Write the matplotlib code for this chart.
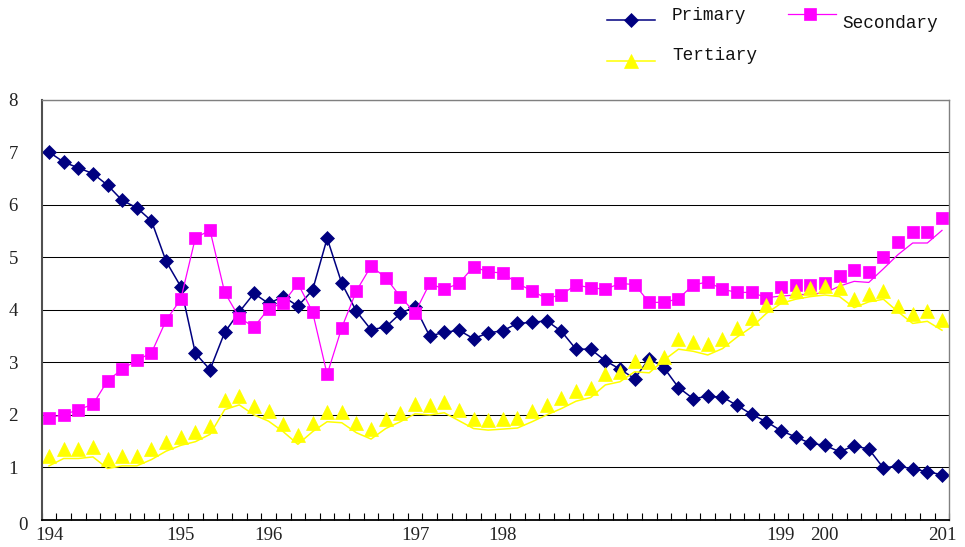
import matplotlib
matplotlib.use("Agg")
import matplotlib.pyplot as plt
import numpy as np
from matplotlib.lines import Line2D
from matplotlib.transforms import ScaledTranslation

# values, one per category (62 categories)
primary = [7.00, 6.81, 6.70, 6.59, 6.37, 6.08, 5.94, 5.69, 4.92, 4.44,
           3.17, 2.86, 3.57, 3.96, 4.31, 4.12, 4.25, 4.07, 4.37, 5.36,
           4.50, 3.97, 3.62, 3.67, 3.93, 4.06, 3.50, 3.57, 3.61, 3.45,
           3.56, 3.60, 3.74, 3.76, 3.79, 3.59, 3.25, 3.25, 3.03, 2.87,
           2.69, 3.07, 2.90, 2.52, 2.31, 2.35, 2.34, 2.18, 2.01, 1.87,
           1.70, 1.58, 1.46, 1.42, 1.30, 1.41, 1.35, 0.99, 1.03, 0.97,
           0.92, 0.86]

# secondary: marker values and the (slightly different) line values
secondary = [1.95, 2.00, 2.10, 2.20, 2.65, 2.87, 3.04, 3.18, 3.80, 4.20,
             5.37, 5.51, 4.33, 3.85, 3.67, 4.02, 4.13, 4.50, 3.96, 2.77,
             3.66, 4.36, 4.83, 4.61, 4.25, 3.94, 4.50, 4.39, 4.50, 4.82,
             4.72, 4.70, 4.50, 4.36, 4.21, 4.29, 4.47, 4.42, 4.39, 4.50,
             4.48, 4.14, 4.14, 4.21, 4.47, 4.53, 4.39, 4.33, 4.33, 4.23,
             4.43, 4.47, 4.48, 4.50, 4.65, 4.75, 4.72, 5.01, 5.29, 5.48,
             5.48, 5.74]
secondary_line = [1.95, 2.00, 2.10, 2.20, 2.65, 2.87, 3.04, 3.18, 3.80, 4.20,
                  5.37, 5.51, 4.33, 3.85, 3.67, 4.02, 4.13, 4.50, 3.96, 2.77,
                  3.66, 4.36, 4.83, 4.61, 4.25, 3.94, 4.50, 4.39, 4.50, 4.82,
                  4.72, 4.70, 4.50, 4.36, 4.21, 4.29, 4.47, 4.42, 4.39, 4.50,
                  4.48, 4.14, 4.14, 4.21, 4.47, 4.53, 4.39, 4.33, 4.33, 4.23,
                  4.26, 4.28, 4.30, 4.32, 4.45, 4.54, 4.52, 4.78, 5.05, 5.27,
                  5.27, 5.51]

# tertiary: marker values and line values
tertiary = [1.22, 1.36, 1.36, 1.39, 1.17, 1.22, 1.22, 1.35, 1.48, 1.58,
            1.67, 1.78, 2.29, 2.35, 2.16, 2.07, 1.83, 1.62, 1.84, 2.05,
            2.05, 1.84, 1.73, 1.93, 2.03, 2.21, 2.18, 2.24, 2.10, 1.92,
            1.90, 1.92, 1.95, 2.07, 2.19, 2.32, 2.46, 2.52, 2.78, 2.82,
            3.02, 3.00, 3.11, 3.45, 3.38, 3.34, 3.45, 3.66, 3.84, 4.09,
            4.25, 4.35, 4.42, 4.45, 4.42, 4.21, 4.30, 4.35, 4.08, 3.92,
            3.97, 3.80]
tertiary_line = [1.03, 1.17, 1.17, 1.20, 0.98, 1.03, 1.03, 1.15, 1.31, 1.42,
                 1.49, 1.63, 2.10, 2.19, 2.00, 1.88, 1.68, 1.44, 1.68, 1.87,
                 1.85, 1.66, 1.54, 1.74, 1.87, 2.02, 2.00, 2.04, 1.89, 1.74,
                 1.71, 1.73, 1.75, 1.87, 2.00, 2.12, 2.26, 2.33, 2.57, 2.63,
                 2.82, 2.80, 3.04, 3.25, 3.21, 3.14, 3.26, 3.48, 3.67, 3.93,
                 4.12, 4.20, 4.25, 4.28, 4.25, 4.04, 4.15, 4.20, 3.96, 3.74,
                 3.78, 3.61]

tick_pos = [0, 9, 15, 25, 31, 50, 53, 61]
tick_labels = ["194", "195", "196", "197", "198", "199", "200", "201"]
y_ticks = [0, 1, 2, 3, 4, 5, 6, 7, 8]

NAVY = "#000080"
MAGENTA = "#FF00FF"
YELLOW = "#FFFF00"

W, H = 965, 547
fig = plt.figure(figsize=(W / 100, H / 100), dpi=100)
ax = fig.add_axes([41.7 / W, 1 - 520 / H, (949.3 - 41.7) / W, (520 - 99.5) / H])

x = np.arange(len(primary))

ax.plot(x, primary, color=NAVY, lw=1.1, marker="D", ms=6.8, mec=NAVY, mew=0.5)
ax.plot(x, secondary_line, color=MAGENTA, lw=0.9)
ax.plot(x, secondary, ls="none", marker="s", ms=8.2, color=MAGENTA, mew=0.5)
ax.plot(x, tertiary_line, color=YELLOW, lw=1.1)
ax.plot(x, tertiary, ls="none", marker="^", ms=9.6, color=YELLOW, mew=0.5)

ax.set_xlim(-0.5, len(primary) - 0.5)
ax.set_ylim(0, 8)

# gridlines
ax.set_yticks(y_ticks)
ax.yaxis.grid(True, color="black", lw=0.75)
ax.set_axisbelow(True)

# spines
for side in ["top", "right"]:
    ax.spines[side].set_color("#808080")
    ax.spines[side].set_linewidth(1.0)
ax.spines["left"].set_color("#505050")
ax.spines["left"].set_linewidth(1.5)
ax.spines["bottom"].set_color("black")
ax.spines["bottom"].set_linewidth(1.3)

# ticks
tick_font = {"family": "Liberation Serif", "size": 13.6}
ax.set_xticks(tick_pos)
ax.set_xticklabels(tick_labels, fontdict=tick_font, color="#222222")
ax.set_xticks(np.arange(-0.5, len(primary), 1), minor=True)
ax.tick_params(axis="x", which="major", length=0, pad=5)
ax.tick_params(axis="x", which="minor", direction="in", length=5, width=0.8, color="black")
ax.set_yticklabels([str(v) for v in y_ticks], fontdict=tick_font, color="#222222")
ax.tick_params(axis="y", length=0, pad=17)

# the "0" label sits a bit to the right and lower in the reference
zero_lbl = ax.yaxis.get_major_ticks()[0].label1
zero_lbl.set_transform(zero_lbl.get_transform()
                       + ScaledTranslation(10 / 100, -4 / 100, fig.dpi_scale_trans))

# legend, drawn by hand to keep its odd layout
leg_font = {"family": "Liberation Mono", "size": 12.8, "color": "#111111"}


def fx(px):
    return px / W


def fy(py):
    return 1 - py / H


def legend_item(x0, x1, y_line, mx, color, marker, ms, tx, ty, text, lw):
    fig.add_artist(Line2D([fx(x0), fx(x1)], [fy(y_line), fy(y_line)],
                          transform=fig.transFigure, color=color, lw=lw))
    fig.add_artist(Line2D([fx(mx)], [fy(y_line)], transform=fig.transFigure,
                          ls="none", marker=marker, ms=ms, color=color, mew=0.5))
    fig.text(fx(tx), fy(ty), text, ha="left", va="center", **leg_font)


legend_item(607, 655, 20, 631, NAVY, "D", 6.8, 672, 16, "Primary", 1.1)
legend_item(788, 836, 14, 810, MAGENTA, "s", 8.2, 842, 23, "Secondary", 0.9)
legend_item(607, 655, 61, 631, YELLOW, "^", 9.6, 672, 56, "Tertiary", 1.1)

fig.savefig("out.png", dpi=100)
